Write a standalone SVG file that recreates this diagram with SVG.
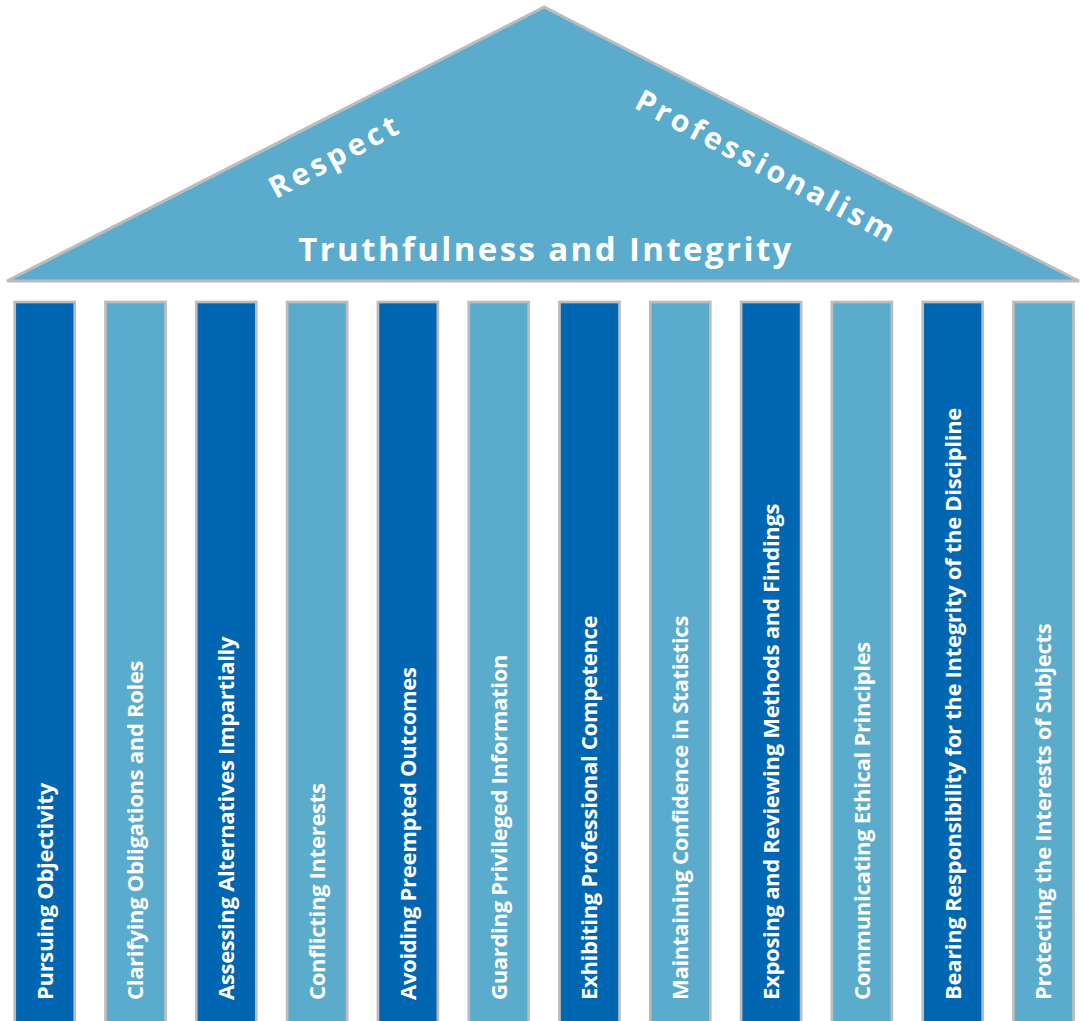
<svg xmlns="http://www.w3.org/2000/svg" width="1083" height="1021" viewBox="0 0 1083 1021">
<style>
.roof{fill:#5aabcc;stroke:#bcbcbc;stroke-width:3;stroke-linejoin:miter}
.col{stroke:#bcbcbc;stroke-width:2.7}
.dark{fill:#0066b2}
.light{fill:#5aabcc}
.lbl{font-family:"Open Sans","DejaVu Sans",sans-serif;font-weight:bold;font-size:22px;letter-spacing:-0.3px;fill:#ffffff}
.rt{font-family:"Open Sans","DejaVu Sans",sans-serif;font-weight:bold;fill:#ffffff}
</style>
<rect width="1083" height="1021" fill="#ffffff"/>
<g id="roof">
<polygon class="roof" points="544,7 7,281 1079,281"/>
<text class="rt" font-size="30" letter-spacing="4" text-anchor="middle" transform="translate(340,165) rotate(-28)">Respect</text>
<text class="rt" font-size="30" letter-spacing="3.6" text-anchor="middle" transform="translate(762,176) rotate(28)">Professionalism</text>
<text class="rt" font-size="33" letter-spacing="2.4" text-anchor="middle" x="546" y="261">Truthfulness and Integrity</text>
</g>
<g id="col1"><rect class="col dark" x="14.7" y="302" width="60" height="730"/><text class="lbl" transform="translate(52.5,1000) rotate(-90)">Pursuing Objectivity</text></g>
<g id="col2"><rect class="col light" x="105.5" y="302" width="60" height="730"/><text class="lbl" transform="translate(143.3,1000) rotate(-90)">Clarifying Obligations and Roles</text></g>
<g id="col3"><rect class="col dark" x="196.3" y="302" width="60" height="730"/><text class="lbl" transform="translate(234.1,1000) rotate(-90)">Assessing Alternatives Impartially</text></g>
<g id="col4"><rect class="col light" x="287.1" y="302" width="60" height="730"/><text class="lbl" transform="translate(324.9,1000) rotate(-90)">Conflicting Interests</text></g>
<g id="col5"><rect class="col dark" x="377.9" y="302" width="60" height="730"/><text class="lbl" transform="translate(415.7,1000) rotate(-90)">Avoiding Preempted Outcomes</text></g>
<g id="col6"><rect class="col light" x="468.7" y="302" width="60" height="730"/><text class="lbl" transform="translate(506.5,1000) rotate(-90)">Guarding Privileged Information</text></g>
<g id="col7"><rect class="col dark" x="559.5" y="302" width="60" height="730"/><text class="lbl" transform="translate(597.3,1000) rotate(-90)">Exhibiting Professional Competence</text></g>
<g id="col8"><rect class="col light" x="650.3" y="302" width="60" height="730"/><text class="lbl" transform="translate(688.1,1000) rotate(-90)">Maintaining Confidence in Statistics</text></g>
<g id="col9"><rect class="col dark" x="741.1" y="302" width="60" height="730"/><text class="lbl" transform="translate(778.9,1000) rotate(-90)">Exposing and Reviewing Methods and Findings</text></g>
<g id="col10"><rect class="col light" x="831.9" y="302" width="60" height="730"/><text class="lbl" transform="translate(869.7,1000) rotate(-90)">Communicating Ethical Principles</text></g>
<g id="col11"><rect class="col dark" x="922.7" y="302" width="60" height="730"/><text class="lbl" transform="translate(960.5,1000) rotate(-90)">Bearing Responsibility for the Integrity of the Discipline</text></g>
<g id="col12"><rect class="col light" x="1013.5" y="302" width="60" height="730"/><text class="lbl" transform="translate(1051.3,1000) rotate(-90)">Protecting the Interests of Subjects</text></g>
</svg>
